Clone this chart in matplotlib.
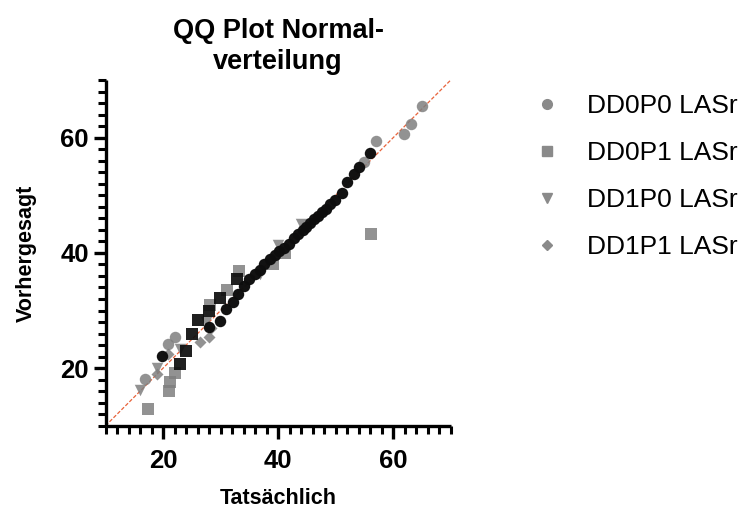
import matplotlib
matplotlib.use("Agg")
import matplotlib.pyplot as plt
from matplotlib.lines import Line2D
from matplotlib.ticker import MultipleLocator

plt.rcParams['font.family'] = ['Liberation Sans', 'DejaVu Sans']

# Actual (x) vs. predicted (y) quantiles per group.
# "light" points are drawn in the group's grey; "dark" ones are the densely stacked points.
dd0p0_light_x = [65.0, 63.1, 61.8, 57.0, 55.0, 16.9, 20.9, 22.0]
dd0p0_light_y = [65.5, 62.3, 60.6, 59.5, 55.8, 18.2, 24.2, 25.4]
dd0p0_dark_x = [19.9, 27.9, 29.9, 31.0, 32.1, 33.0, 34.0, 35.0, 35.9, 36.8, 37.6, 38.6,
                39.5, 40.2, 41.1, 41.9, 42.8, 43.5, 44.3, 44.9, 45.6, 46.3, 47.0,
                47.7, 48.3, 49.0, 49.9, 51.1, 51.9, 53.1, 54.0, 56.0]
dd0p0_dark_y = [22.1, 27.2, 28.2, 30.3, 31.5, 32.8, 34.2, 35.4, 36.3, 37.0, 38.1, 38.9,
                39.6, 40.3, 40.9, 41.6, 42.5, 43.2, 43.9, 44.5, 45.2, 45.8, 46.4,
                47.1, 47.7, 48.4, 49.2, 50.4, 52.3, 53.7, 54.9, 57.3]

dd0p1_light_x = [17.3, 21.0, 21.2, 22.0, 28.2, 31.1, 33.2, 39.1, 41.2, 56.1]
dd0p1_light_y = [12.9, 16.1, 17.6, 19.2, 30.9, 33.5, 36.8, 38.1, 39.9, 43.2]
dd0p1_dark_x = [23.0, 24.0, 25.0, 26.0, 28.0, 29.9, 32.8]
dd0p1_dark_y = [20.7, 22.9, 25.9, 28.3, 29.9, 32.1, 35.4]

dd1p0_x = [16.0, 18.9, 23.0, 27.5, 36.9, 40.0, 43.9]
dd1p0_y = [16.2, 20.0, 23.4, 28.0, 36.3, 41.3, 45.1]

dd1p1_x = [18.9, 20.9, 26.5, 27.9, 28.3]
dd1p1_y = [19.0, 22.5, 24.5, 25.4, 27.0]

labels = ['DD0P0 LASr', 'DD0P1 LASr', 'DD1P0 LASr', 'DD1P1 LASr']
ref_line = [10, 70]

grey = '#7f7f7f'
dark = '#0d0d0d'

fig = plt.figure(figsize=(7.5, 5.11), dpi=100)
ax = fig.add_axes([0.1407, 0.1668, 0.4603, 0.6766])

ax.plot(ref_line, ref_line, color='#e8623a', lw=0.9, ls=(0, (3, 1.5)), zorder=1)

ms = 68
ax.scatter(dd1p1_x, dd1p1_y, marker='D', s=ms * 0.55, color=grey, alpha=0.85, lw=0, zorder=2)
ax.scatter(dd1p0_x, dd1p0_y, marker='v', s=ms, color=grey, alpha=0.85, lw=0, zorder=2)
ax.scatter(dd0p1_light_x, dd0p1_light_y, marker='s', s=ms, color=grey, alpha=0.85, lw=0, zorder=3)
ax.scatter(dd0p1_dark_x, dd0p1_dark_y, marker='s', s=ms, color=dark, alpha=0.92, lw=0, zorder=3)
ax.scatter(dd0p0_light_x, dd0p0_light_y, marker='o', s=ms, color=grey, alpha=0.85, lw=0, zorder=4)
ax.scatter(dd0p0_dark_x, dd0p0_dark_y, marker='o', s=ms, color=dark, alpha=0.98, lw=0, zorder=4)

ax.set_xlim(10, 70)
ax.set_ylim(10, 70)
ax.xaxis.set_minor_locator(MultipleLocator(2))
ax.yaxis.set_minor_locator(MultipleLocator(2))
ax.set_xticks([20, 40, 60])
ax.set_yticks([20, 40, 60])

for side in ['top', 'right']:
    ax.spines[side].set_visible(False)
for side in ['left', 'bottom']:
    ax.spines[side].set_linewidth(2.4)
    ax.spines[side].set_capstyle('butt')

ax.tick_params(which='major', length=9, width=2.4, direction='out', labelsize=18.5)
ax.tick_params(axis='x', which='major', pad=7.5)
ax.tick_params(axis='y', which='major', pad=3)
ax.tick_params(which='minor', length=5.5, width=2.2, direction='out')
for lab in ax.get_xticklabels() + ax.get_yticklabels():
    lab.set_fontweight('bold')

ax.set_xlabel('Tatsächlich', fontsize=15.5, fontweight='bold', labelpad=11)
ax.set_ylabel('Vorhergesagt', fontsize=15.5, fontweight='bold', labelpad=17)
ax.set_title('QQ Plot Normal-\nverteilung', fontsize=19.5, fontweight='bold', pad=8,
             linespacing=1.25)

handles = [
    Line2D([], [], marker='o', ls='none', color='#8a8a8a', markersize=7),
    Line2D([], [], marker='s', ls='none', color='#8a8a8a', markersize=7),
    Line2D([], [], marker='v', ls='none', color='#8a8a8a', markersize=7),
    Line2D([], [], marker='D', ls='none', color='#8a8a8a', markersize=5),
]
fig.legend(handles, labels, loc='upper left', bbox_to_anchor=(0.68, 0.862),
           frameon=False, fontsize=19, labelspacing=0.87, handletextpad=1.0,
           handlelength=1.0)

fig.savefig('out.png', dpi=100)
